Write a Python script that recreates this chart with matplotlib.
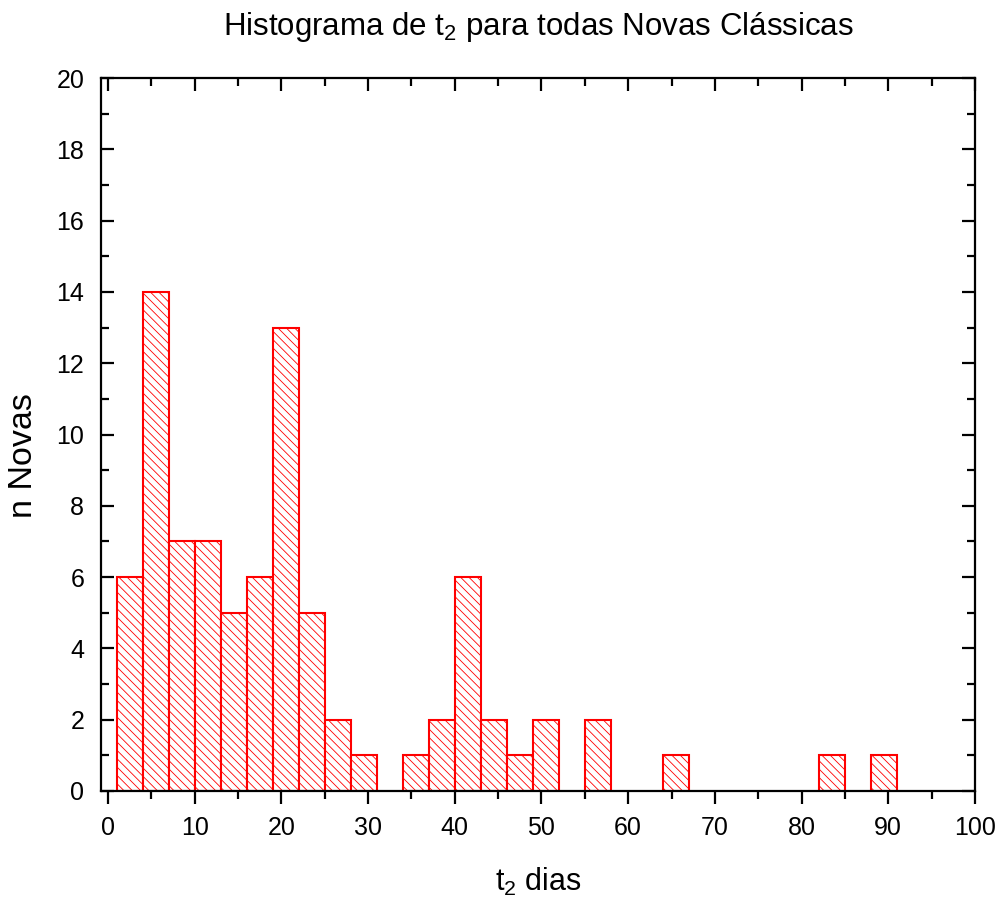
import matplotlib
matplotlib.use("Agg")
import matplotlib.pyplot as plt
from matplotlib.ticker import MultipleLocator
import numpy as np

plt.rcParams['font.family'] = ['Liberation Sans', 'DejaVu Sans']
plt.rcParams['mathtext.fontset'] = 'custom'
plt.rcParams['mathtext.rm'] = 'Liberation Sans'
plt.rcParams['mathtext.it'] = 'Liberation Sans'
plt.rcParams['hatch.color'] = '#ff8c8c'
plt.rcParams['hatch.linewidth'] = 0.6

# histogram of t2 (days), bins of 3 days starting at 1
bin_start = 1
bin_width = 3
counts = [6, 14, 7, 7, 5, 6, 13, 5, 2, 1,
          0, 1, 2, 6, 2, 1, 2, 0, 2, 0,
          0, 1, 0, 0, 0, 0, 0, 1, 0, 1]

edges = bin_start + bin_width * np.arange(len(counts))

fig = plt.figure(figsize=(10.02, 9.09), dpi=100)
ax = fig.add_axes([101/1002, 1 - 791/909, (975-101)/1002, (791-78)/909])

mask = np.array(counts) > 0
ax.bar(edges[mask], np.array(counts)[mask], width=bin_width, align='edge',
       facecolor='white', edgecolor='red', linewidth=1.5, hatch='\\\\\\\\')

ax.set_xlim(-0.8, 100)
ax.set_ylim(0, 20)
ax.xaxis.set_major_locator(MultipleLocator(10))
ax.xaxis.set_minor_locator(MultipleLocator(5))
ax.yaxis.set_major_locator(MultipleLocator(2))
ax.yaxis.set_minor_locator(MultipleLocator(1))

for s in ax.spines.values():
    s.set_linewidth(1.6)

# ticks inside on left/top/right
ax.tick_params(which='both', direction='in', width=1.6, labelsize=18,
               top=True, right=True)
ax.tick_params(which='major', length=9.5)
ax.tick_params(which='minor', length=5.5)
ax.tick_params(axis='y', which='both', pad=12)
ax.tick_params(axis='x', which='both', pad=18)

# bottom ticks point outward
for tl in ax.xaxis.get_ticklines(minor=False)[0::2] + ax.xaxis.get_ticklines(minor=True)[0::2]:
    tl.set_marker(3)

ax.set_title(r'Histograma de $\mathregular{t_2}$ para todas Novas Clássicas',
             fontsize=22.5, pad=31)
ax.set_xlabel(r'$\mathregular{t_2}$ dias', fontsize=22, labelpad=19)
ax.set_ylabel('n Novas', fontsize=24.5)
ax.yaxis.set_label_coords(-0.071, 0.47)

fig.savefig('out.png', dpi=100)
